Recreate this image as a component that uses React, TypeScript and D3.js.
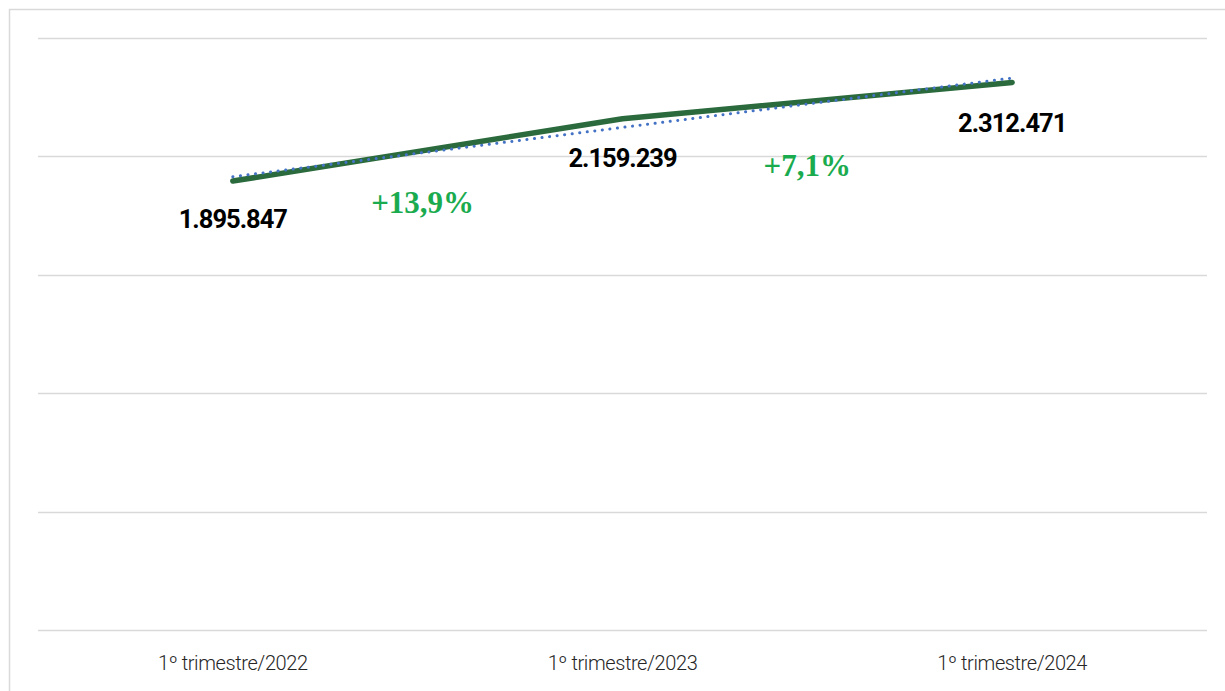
import React from "react";
import * as d3 from "d3";

const categories = ["1º trimestre/2022", "1º trimestre/2023", "1º trimestre/2024"];
const values = [1895847, 2159239, 2312471];
const valueLabels = ["1.895.847", "2.159.239", "2.312.471"];
const growthLabels = ["+13,9%", "+7,1%"];
const yTicks = [0, 500000, 1000000, 1500000, 2000000, 2500000];

const W = 1225;
const H = 691;
const margin = { left: 38, right: 18, top: 38, bottom: 61 };

export default function App() {
  const x = d3
    .scaleBand<string>()
    .domain(categories)
    .range([margin.left, W - margin.right])
    .padding(0);
  const y = d3.scaleLinear().domain([0, 2500000]).range([H - margin.bottom, margin.top]);
  const cx = (i: number) => (x(categories[i]) as number) + x.bandwidth() / 2;

  const line = d3
    .line<number>()
    .x((_, i) => cx(i))
    .y((d) => y(d));

  // linear trendline (least squares)
  const xs = values.map((_, i) => i);
  const mx = d3.mean(xs) as number;
  const my = d3.mean(values) as number;
  const slope =
    d3.sum(xs.map((xi, i) => (xi - mx) * (values[i] - my))) /
    d3.sum(xs.map((xi) => (xi - mx) * (xi - mx)));
  const intercept = my - slope * mx;
  const trend = xs.map((xi) => intercept + slope * xi);

  const labelFont = "Roboto, 'DejaVu Sans', sans-serif";

  return (
    <svg
      width={W}
      height={H}
      style={{ position: "absolute", left: 0, top: 0, background: "#fff" }}
    >
      <rect x={9.5} y={9.5} width={W} height={H} fill="#fff" stroke="#d9d9d9" strokeWidth={1.5} />
      {yTicks.map((t) => (
        <line
          key={t}
          x1={margin.left}
          x2={W - margin.right}
          y1={Math.round(y(t)) + 0.5}
          y2={Math.round(y(t)) + 0.5}
          stroke="#d9d9d9"
          strokeWidth={1.5}
        />
      ))}
      <path
        d={line(values) as string}
        fill="none"
        stroke="#2a6a3c"
        strokeWidth={5.5}
        strokeLinecap="round"
        strokeLinejoin="round"
      />
      <path
        d={line(trend) as string}
        fill="none"
        stroke="#4472c4"
        strokeWidth={3}
        strokeDasharray="0.1 7.5"
        strokeLinecap="round"
      />
      {valueLabels.map((lab, i) => (
        <text
          key={lab}
          x={cx(i)}
          y={y(values[i]) + [47, 48, 50][i]}
          textAnchor="middle"
          fontFamily={labelFont}
          fontWeight={700}
          fontSize={25.5}
          letterSpacing={-1}
          fill="#000"
        >
          {lab}
        </text>
      ))}
      {growthLabels.map((lab, i) => (
        <text
          key={lab}
          x={(cx(i) + cx(i + 1)) / 2 + [-5, -10][i]}
          y={[213, 176][i]}
          textAnchor="middle"
          fontFamily="'Liberation Serif', 'Times New Roman', serif"
          fontWeight={700}
          fontSize={31}
          fill="#1aab4f"
        >
          {lab}
        </text>
      ))}
      {categories.map((c, i) => (
        <text
          key={c}
          x={cx(i)}
          y={670}
          textAnchor="middle"
          fontFamily={labelFont}
          fontWeight={300}
          fontSize={20}
          letterSpacing={-0.4}
          fill="#262626"
        >
          {c}
        </text>
      ))}
    </svg>
  );
}
